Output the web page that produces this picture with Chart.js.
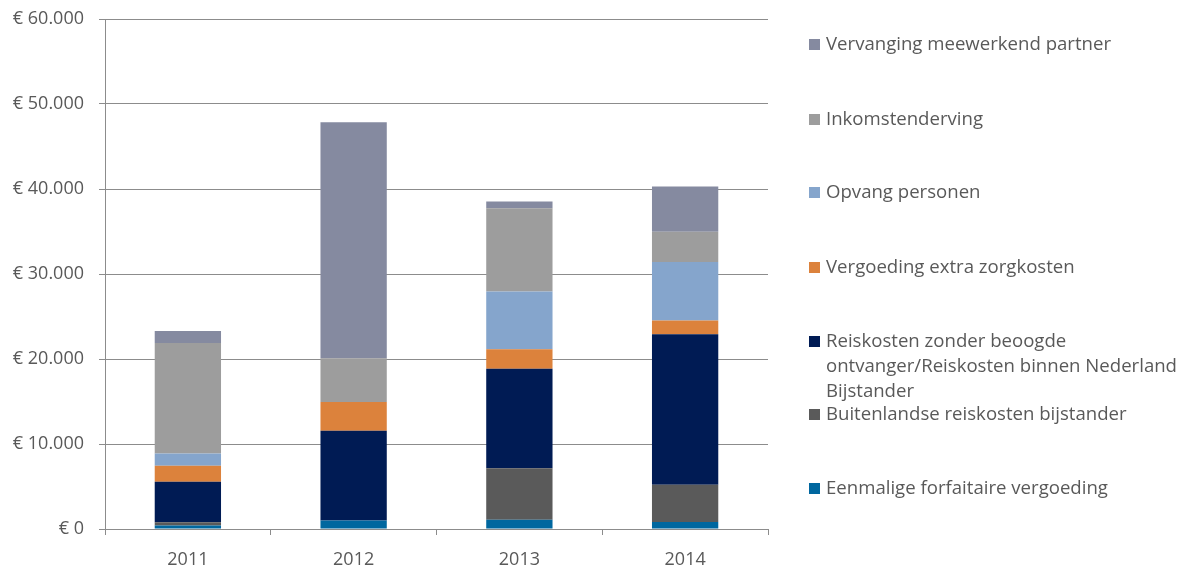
<!DOCTYPE html>
<html>
<head>
<meta charset="utf-8">
<script src="https://cdn.jsdelivr.net/npm/chart.js@4/dist/chart.umd.min.js"></script>
<style>
  html, body { margin: 0; padding: 0; background: #fff; }
  #wrap { position: relative; width: 1184px; height: 567px; }
  #legend { position: absolute; left: 809px; top: 0; font-family: "Open Sans", sans-serif; font-size: 18.6px; color: #595959; }
  .item { position: absolute; left: 0; white-space: nowrap; line-height: 25px; }
  .box { display: inline-block; width: 11px; height: 11px; margin-right: 6px; vertical-align: 0px; }
</style>
</head>
<body>
<div id="wrap">
  <canvas id="chart" width="1184" height="567"></canvas>
  <div id="legend"></div>
</div>
<script>
const years = ["2011", "2012", "2013", "2014"];

const seriesNames = [
  "Eenmalige forfaitaire vergoeding",
  "Buitenlandse reiskosten bijstander",
  "Reiskosten zonder beoogde ontvanger/Reiskosten binnen Nederland Bijstander",
  "Vergoeding extra zorgkosten",
  "Opvang personen",
  "Inkomstenderving",
  "Vervanging meewerkend partner"
];

const eenmalige = [400, 1000, 1100, 820];
const buitenlandse = [400, 0, 6050, 4380];
const reiskosten = [4750, 10550, 11700, 17720];
const zorgkosten = [1880, 3400, 2300, 1610];
const opvang = [1450, 0, 6800, 6890];
const inkomsten = [13000, 5150, 9800, 3560];
const vervanging = [1420, 27750, 780, 5320];

const seriesColors = ["#00679f", "#5a5a5a", "#001b54", "#dc823c", "#85a5cc", "#9d9d9d", "#858aa0"];

// legend labels as they wrap in the picture, top to bottom
const legendLines = [
  ["Vervanging meewerkend partner"],
  ["Inkomstenderving"],
  ["Opvang personen"],
  ["Vergoeding extra zorgkosten"],
  ["Reiskosten zonder beoogde", "ontvanger/Reiskosten binnen Nederland", "Bijstander"],
  ["Buitenlandse reiskosten bijstander"],
  ["Eenmalige forfaitaire vergoeding"]
];
const legendTops = [30, 105, 178, 253, 327, 400, 474];

const values = [eenmalige, buitenlandse, reiskosten, zorgkosten, opvang, inkomsten, vervanging];

const datasets = values.map((data, i) => ({
  label: seriesNames[i],
  data: data,
  backgroundColor: seriesColors[i],
  borderWidth: 0,
  barPercentage: 0.4,
  categoryPercentage: 1
}));

const axisFont = { family: "'Open Sans', sans-serif", size: 18 };

new Chart(document.getElementById("chart"), {
  type: "bar",
  data: { labels: years, datasets: datasets },
  options: {
    responsive: false,
    animation: false,
    layout: { padding: { top: 19, right: 416, bottom: 0, left: 0 } },
    plugins: { legend: { display: false }, tooltip: { enabled: false } },
    scales: {
      x: {
        stacked: true,
        grid: { drawOnChartArea: false, color: "#8c8c8c", tickLength: 6, offset: true },
        border: { color: "#8c8c8c", width: 1 },
        ticks: { color: "#595959", font: axisFont, padding: 14 },
        afterFit: (scale) => {
          scale.height = 38;
          scale.paddingLeft = 0;
          scale.paddingRight = 0;
        }
      },
      y: {
        stacked: true,
        min: 0,
        max: 60000,
        grid: { color: "#8c8c8c", tickLength: 6 },
        border: { color: "#8c8c8c", width: 1 },
        ticks: {
          stepSize: 10000,
          color: "#595959",
          font: axisFont,
          padding: 15,
          callback: (v) => "€ " + v.toLocaleString("nl-NL")
        },
        afterFit: (scale) => {
          scale.width = 105;
          scale.paddingTop = 0;
          scale.paddingBottom = 0;
        }
      }
    }
  }
});

const legendEl = document.getElementById("legend");
legendLines.forEach((lines, i) => {
  const item = document.createElement("div");
  item.className = "item";
  item.style.top = legendTops[i] + "px";
  const color = seriesColors[seriesColors.length - 1 - i];
  item.innerHTML = '<span class="box" style="background:' + color + '"></span>' + lines[0] +
    lines.slice(1).map((l) => '<br><span style="padding-left:17px">' + l + "</span>").join("");
  legendEl.appendChild(item);
});
</script>
</body>
</html>
